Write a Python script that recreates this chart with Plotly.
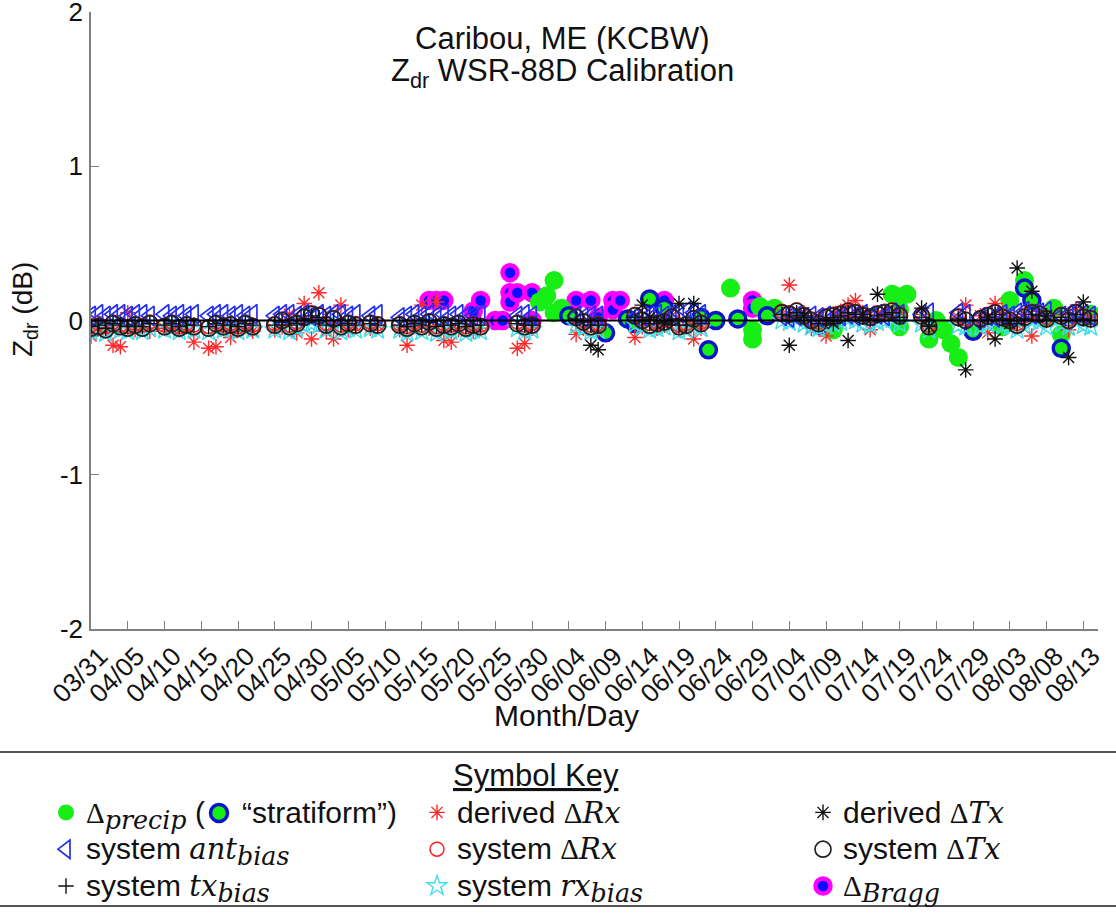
import plotly.graph_objects as go

YEAR = "2014"
SANS = "Liberation Sans, Arial, Helvetica, sans-serif"
SERIF = "DejaVu Serif"

# ---------------- data ----------------
TICK_LABELS = ["03/31", "04/05", "04/10", "04/15", "04/20", "04/25", "04/30", "05/05",
               "05/10", "05/15", "05/20", "05/25", "05/30", "06/04", "06/09", "06/14",
               "06/19", "06/24", "06/29", "07/04", "07/09", "07/14", "07/19", "07/24",
               "07/29", "08/03", "08/08", "08/13"]

# days with system calibration records
CAL_DATES = [
    "03/31", "04/01", "04/02", "04/03", "04/04", "04/05", "04/06", "04/07", "04/08",
    "04/10", "04/11", "04/12", "04/13", "04/14",
    "04/16", "04/17", "04/18", "04/19", "04/20", "04/21", "04/22",
    "04/25", "04/26", "04/27", "04/28", "04/29", "04/30", "05/01", "05/02", "05/03", "05/04", "05/05", "05/06",
    "05/08", "05/09",
    "05/12", "05/13", "05/14", "05/15", "05/16", "05/17", "05/18", "05/19", "05/20", "05/21", "05/22", "05/23",
    "05/28", "05/29", "05/30",
    "06/05", "06/06", "06/07", "06/08",
    "06/13", "06/14", "06/15", "06/16", "06/17", "06/18", "06/19", "06/20", "06/21", "06/22",
    "07/03", "07/04", "07/05", "07/06", "07/07", "07/08", "07/09", "07/10", "07/11", "07/12",
    "07/13", "07/14", "07/15", "07/16", "07/17", "07/18", "07/19",
    "07/22", "07/23",
    "07/27", "07/28",
    "07/30", "07/31", "08/01", "08/02", "08/03", "08/04", "08/05", "08/06", "08/07", "08/08",
    "08/10", "08/11", "08/12", "08/13", "08/14",
]

ANT_BIAS = [
    0.03, 0.04, 0.03, 0.04, 0.04, 0.03, 0.04, 0.04, 0.03,
    0.04, 0.03, 0.04, 0.03, 0.04,
    0.03, 0.04, 0.04, 0.03, 0.04, 0.03, 0.04,
    0.03, 0.04, 0.04, 0.03, 0.04, 0.03, 0.04, 0.03, 0.04, 0.04, 0.03, 0.04,
    0.03, 0.04,
    0.02, 0.03, 0.04, 0.03, 0.04, 0.03, 0.04, 0.03, 0.04, 0.03, 0.03, 0.04,
    0.03, 0.04, 0.03,
    0.03, 0.02, 0.03, 0.03,
    0.02, 0.03, 0.03, 0.04, 0.03, 0.04, 0.05, 0.06, 0.05, 0.04,
    0.03, 0.02, 0.03, 0.02, 0.03, 0.02, 0.03, 0.02, 0.03, 0.04,
    0.03, 0.04, 0.03, 0.04, 0.03, 0.05, 0.04,
    0.04, 0.05,
    0.05, 0.04,
    0.02, 0.03, 0.02, 0.04, 0.03, 0.05, 0.06, 0.04, 0.05, 0.06,
    0.03, 0.04, 0.05, 0.04, 0.03,
]

SYS_DTX = [
    -0.05, -0.04, -0.06, -0.02, -0.04, -0.05, -0.03, -0.05, -0.02,
    -0.04, -0.02, -0.05, -0.03, -0.04,
    -0.05, -0.02, -0.04, -0.03, -0.05, -0.02, -0.04,
    -0.03, 0.00, -0.04, -0.02, 0.02, 0.04, 0.03, -0.03, 0.01, -0.04, -0.02, -0.03,
    -0.02, -0.03,
    -0.03, -0.05, -0.02, -0.04, -0.01, -0.05, -0.03, -0.04, -0.02, -0.05, -0.03, -0.04,
    -0.02, -0.04, -0.03,
    0.02, -0.01, -0.04, -0.03,
    0.03, 0.00, -0.03, -0.02, -0.01, 0.02, -0.04, -0.03, 0.01, -0.02,
    0.05, 0.04, 0.06, 0.03, 0.00, -0.02, 0.02, 0.03, 0.04, 0.06,
    0.05, 0.03, 0.02, 0.04, 0.05, 0.06, 0.03,
    0.03, -0.04,
    0.02, 0.00,
    0.01, 0.03, 0.05, 0.02, 0.00, -0.03, 0.02, 0.05, 0.04, 0.01,
    0.03, 0.00, 0.05, 0.02, 0.01,
]

SYS_DRX = [
    -0.03, -0.02, -0.04, -0.01, -0.03, -0.04, -0.02, -0.03, -0.01,
    -0.03, -0.01, -0.04, -0.02, -0.03,
    -0.04, -0.01, -0.03, -0.02, -0.04, -0.01, -0.03,
    -0.02, 0.01, -0.03, -0.01, 0.03, 0.05, 0.04, -0.02, 0.02, -0.03, -0.01, -0.02,
    -0.01, -0.02,
    -0.02, -0.04, -0.01, -0.03, 0.00, -0.04, -0.02, -0.03, -0.01, -0.04, -0.02, -0.03,
    -0.01, -0.03, -0.02,
    0.03, 0.00, -0.03, -0.02,
    0.04, 0.01, -0.02, -0.01, 0.00, 0.03, -0.03, -0.02, 0.02, -0.01,
    0.06, 0.05, 0.07, 0.04, 0.01, -0.01, 0.03, 0.04, 0.05, 0.07,
    0.06, 0.04, 0.03, 0.05, 0.06, 0.07, 0.04,
    0.04, -0.03,
    0.03, 0.01,
    0.02, 0.04, 0.06, 0.03, 0.01, -0.02, 0.03, 0.06, 0.05, 0.02,
    0.04, 0.01, 0.06, 0.03, 0.02,
]

RX_BIAS = [
    -0.07, -0.06, -0.08, -0.05, -0.06, -0.07, -0.05, -0.07, -0.05,
    -0.06, -0.05, -0.07, -0.05, -0.06,
    -0.07, -0.05, -0.06, -0.05, -0.07, -0.05, -0.06,
    -0.06, -0.04, -0.07, -0.05, -0.03, -0.02, -0.03, -0.06, -0.04, -0.07, -0.05, -0.06,
    -0.05, -0.06,
    -0.06, -0.08, -0.05, -0.07, -0.04, -0.08, -0.06, -0.07, -0.05, -0.08, -0.06, -0.07,
    -0.05, -0.07, -0.06,
    -0.03, -0.05, -0.07, -0.06,
    -0.02, -0.04, -0.06, -0.05, -0.04, -0.02, -0.07, -0.06, -0.03, -0.05,
    0.00, -0.01, 0.01, -0.02, -0.04, -0.05, -0.03, -0.02, -0.01, 0.01,
    0.00, -0.02, -0.03, -0.01, 0.00, 0.01, -0.02,
    -0.02, -0.06,
    -0.03, -0.04,
    -0.04, -0.02, 0.00, -0.03, -0.04, -0.06, -0.03, 0.00, -0.01, -0.04,
    -0.02, -0.04, 0.00, -0.03, -0.04,
]

TX_BIAS = [
    -0.04, -0.03, -0.05, -0.02, -0.03, -0.04, -0.03, -0.04, -0.02,
    -0.03, -0.02, -0.04, -0.03, -0.03,
    -0.04, -0.02, -0.03, -0.03, -0.04, -0.02, -0.03,
    -0.03, -0.01, -0.03, -0.02, 0.01, 0.03, 0.02, -0.03, 0.00, -0.03, -0.02, -0.03,
    -0.02, -0.03,
    -0.03, -0.04, -0.02, -0.03, -0.01, -0.04, -0.03, -0.03, -0.02, -0.04, -0.03, -0.03,
    -0.02, -0.03, -0.03,
    0.01, -0.01, -0.03, -0.03,
    0.02, 0.00, -0.02, -0.02, -0.01, 0.01, -0.03, -0.03, 0.00, -0.02,
    0.04, 0.03, 0.05, 0.02, 0.00, -0.02, 0.01, 0.02, 0.03, 0.05,
    0.04, 0.02, 0.01, 0.03, 0.04, 0.05, 0.02,
    0.02, -0.03,
    0.01, 0.00,
    0.00, 0.02, 0.04, 0.01, 0.00, -0.02, 0.01, 0.04, 0.03, 0.00,
    0.02, 0.00, 0.04, 0.01, 0.00,
]

DERIVED_DRX = [
    -0.10, -0.05, -0.07, -0.16, -0.17, 0.05, -0.06, -0.04, -0.07,
    -0.05, -0.03, -0.06, -0.04, -0.14,
    -0.18, -0.17, -0.05, -0.11, -0.06, -0.04, -0.07,
    -0.06, -0.04, 0.04, -0.08, 0.11, -0.12, 0.18, -0.07, -0.12, 0.10, -0.06, -0.04,
    -0.05, -0.03,
    -0.06, -0.16, -0.04, 0.10, -0.05, 0.12, -0.13, -0.14, -0.06, -0.04, -0.07, -0.05,
    -0.18, -0.15, -0.05,
    -0.09, -0.05, -0.03, -0.06,
    -0.11, -0.04, 0.02, -0.05, -0.03, 0.03, -0.06, -0.04, -0.12, -0.05,
    0.04, 0.23, 0.03, 0.05, -0.05, 0.02, -0.10, 0.04, 0.06, 0.10,
    0.13, 0.05, -0.06, 0.04, 0.06, 0.03, 0.05,
    0.04, -0.03,
    0.02, 0.10,
    0.03, -0.08, 0.11, 0.05, 0.02, -0.03, 0.04, -0.10, 0.06, 0.03,
    0.04, -0.06, 0.07, 0.03, 0.02,
]

DTX_DATES = ["06/07", "06/08", "06/14", "06/15", "06/17", "06/19", "06/21", "07/04",
             "07/06", "07/10", "07/12", "07/14", "07/16", "07/22", "07/23", "07/28",
             "07/31", "08/01", "08/03", "08/04", "08/06", "08/08", "08/11", "08/13"]
DERIVED_DTX = [-0.16, -0.19, 0.10, 0.02, -0.02, 0.11, 0.11, -0.16,
               0.03, -0.02, -0.13, 0.04, 0.17, 0.08, -0.04, -0.32,
               0.02, -0.12, -0.02, 0.34, 0.19, 0.03, -0.24, 0.12]

PRECIP_DATES = ["05/31", "06/01", "06/02", "06/02", "06/03", "06/26", "06/29", "06/29",
                "06/30", "07/02", "07/10", "07/18", "07/19", "07/19", "07/20", "07/23",
                "07/24", "07/25", "07/26", "07/27", "08/02", "08/03", "08/05", "08/08",
                "08/09", "08/10", "08/14"]
PRECIP = [0.12, 0.16, 0.26, 0.05, 0.08, 0.21, -0.06, -0.12,
          0.09, 0.08, -0.06, 0.17, 0.07, -0.04, 0.17, -0.12,
          0.00, -0.06, -0.15, -0.24, -0.04, 0.13, 0.26, 0.02,
          0.08, -0.09, 0.04]

STRAT_DATES = ["06/04", "06/09", "06/12", "06/13", "06/15", "06/17", "06/22", "06/23",
               "06/24", "06/27", "07/01", "07/08", "07/29", "08/05", "08/06", "08/10"]
STRAT = [0.03, -0.08, 0.01, -0.02, 0.14, 0.08, 0.02, -0.19,
         0.00, 0.01, 0.03, -0.03, -0.07, 0.21, 0.13, -0.18]

BRAGG_DATES = ["05/16", "05/17", "05/18", "05/22", "05/23", "05/25", "05/26", "05/27",
               "05/27", "05/27", "05/28", "05/30", "05/30", "06/05", "06/07", "06/08",
               "06/10", "06/10", "06/11", "06/17", "06/29", "06/29"]
BRAGG = [0.13, 0.13, 0.13, 0.06, 0.13, 0.00, 0.00, 0.31,
         0.18, 0.12, 0.18, 0.18, 0.00, 0.13, 0.13, 0.02,
         0.13, 0.07, 0.13, 0.13, 0.13, 0.08]


def iso(md_list):
    return [f"{YEAR}-{s[:2]}-{s[3:]}" for s in md_list]


# ---------------- figure ----------------
W, H = 1116, 922
L, R, T, B = 91, 18, 12, 293
PW, PH = W - L - R, H - T - B


def px_to_paper_x(px):
    return (px - L) / PW


def py_to_paper_y(py):
    return (H - B - py) / PH


DELTA = '<span style="font-family:Liberation Serif">Δ</span>'


def math(s):
    return f'<span style="font-family:{SERIF};font-size:29px">{s}</span>'


def msub(s):
    return f'<sub><span style="font-size:125%"><i>{s}</i></span></sub>'


def key(s):
    return f'<span style="font-size:30px">{s}</span>'


NB = "\u00a0"
THIN = "\u2009"

fig = go.Figure()

# background series (drawn first)
fig.add_trace(go.Scatter(
    x=iso(BRAGG_DATES), y=BRAGG, mode="markers", name=key(math(DELTA + msub("Bragg"))),
    legend="legend3", legendrank=3,
    marker=dict(symbol="circle", size=15, color="#0a10ff", line=dict(color="#ff00ff", width=4.5))))
fig.add_trace(go.Scatter(
    x=iso(PRECIP_DATES), y=PRECIP, mode="markers",
    name=key(math(DELTA + msub("precip")) + " (" + NB * 3 + THIN * 2 + "“stratiform”)"),
    legend="legend", legendrank=1,
    marker=dict(symbol="circle", size=19, color="#16ee16", line=dict(width=0))))
fig.add_trace(go.Scatter(
    x=iso(STRAT_DATES), y=STRAT, mode="markers", name="stratiform", showlegend=False,
    marker=dict(symbol="circle", size=16, color="#16ee16", line=dict(color="#0a14c8", width=3.5))))

# calibration series
fig.add_trace(go.Scatter(
    x=iso(CAL_DATES), y=DERIVED_DRX, mode="markers", name=key("derived " + math(DELTA + "<i>Rx</i>")),
    legend="legend2", legendrank=1,
    marker=dict(symbol="asterisk-open", size=13, color="#ff2a2a", line=dict(width=1.4))))
fig.add_trace(go.Scatter(
    x=iso(CAL_DATES), y=RX_BIAS, mode="markers",
    name=key("system " + math("<i>rx</i>" + msub("bias"))),
    legend="legend2", legendrank=3,
    marker=dict(symbol="star-open", size=15, color="#40dcec", line=dict(width=1.4))))
fig.add_trace(go.Scatter(
    x=iso(CAL_DATES), y=SYS_DRX, mode="markers", name=key("system " + math(DELTA + "<i>Rx</i>")),
    legend="legend2", legendrank=2,
    marker=dict(symbol="circle-open", size=14, color="#ff2020", line=dict(width=1.5))))
fig.add_trace(go.Scatter(
    x=iso(CAL_DATES), y=ANT_BIAS, mode="markers",
    name=key("system " + math("<i>ant</i>" + msub("bias"))),
    legend="legend", legendrank=2,
    marker=dict(symbol="triangle-left-open", size=17, color="#2430f0", line=dict(width=1.7))))
fig.add_trace(go.Scatter(
    x=iso(CAL_DATES), y=SYS_DTX, mode="markers", name=key("system " + math(DELTA + "<i>Tx</i>")),
    legend="legend3", legendrank=2,
    marker=dict(symbol="circle-open", size=16, color="#222222", line=dict(width=1.7))))
fig.add_trace(go.Scatter(
    x=iso(CAL_DATES), y=TX_BIAS, mode="markers",
    name=key("system " + math("<i>tx</i>" + msub("bias"))),
    legend="legend", legendrank=3,
    marker=dict(symbol="cross-thin-open", size=11, color="#111111", line=dict(width=1.4))))
fig.add_trace(go.Scatter(
    x=iso(DTX_DATES), y=DERIVED_DTX, mode="markers", name=key("derived " + math(DELTA + "<i>Tx</i>")),
    legend="legend3", legendrank=1,
    marker=dict(symbol="asterisk-open", size=13, color="#111111", line=dict(width=1.4))))

axis_gray = "#808080"
fig.update_xaxes(
    type="date", range=[f"{YEAR}-03-31", f"{YEAR}-08-15"],
    tickmode="array", tickvals=iso(TICK_LABELS), ticktext=TICK_LABELS,
    tickangle=-45, ticks="inside", ticklen=8, tickwidth=1.2, tickcolor=axis_gray,
    showline=True, linecolor=axis_gray, linewidth=1.5, mirror=False,
    showgrid=False, zeroline=False, ticklabeloverflow="allow", ticklabelshift=9,
    tickfont=dict(family=SANS, size=26, color="#111"))
fig.update_yaxes(
    range=[-2, 2], tickmode="array", tickvals=[-2, -1, 0, 1, 2], ticktext=["-2", "-1", "0", "1", "2"],
    ticks="inside", ticklen=8, tickwidth=1.2, tickcolor=axis_gray,
    showline=True, linecolor=axis_gray, linewidth=1.5, mirror=False,
    showgrid=False, zeroline=False, ticklabelstandoff=1, ticklabeloverflow="allow",
    tickfont=dict(family=SANS, size=26, color="#111"))

# zero reference line
fig.add_shape(type="line", xref="paper", yref="y", x0=0, x1=1, y0=0, y1=0,
              line=dict(color="black", width=2), layer="above")

# separator lines around symbol key
for py in (752, 906):
    fig.add_shape(type="line", xref="paper", yref="paper",
                  x0=px_to_paper_x(0), x1=px_to_paper_x(W),
                  y0=py_to_paper_y(py), y1=py_to_paper_y(py),
                  line=dict(color="#555555", width=2))

# inline "stratiform" symbol inside first key entry
fig.add_shape(type="circle", xref="paper", yref="paper",
              xsizemode="pixel", ysizemode="pixel",
              xanchor=px_to_paper_x(219), yanchor=py_to_paper_y(813),
              x0=-8.5, x1=8.5, y0=-8.5, y1=8.5,
              fillcolor="#16ee16", line=dict(color="#0a14c8", width=3.5))

ann = [
    dict(text="Caribou, ME (KCBW)", x=px_to_paper_x(562), y=py_to_paper_y(38), size=31, h=32),
    dict(text="Z<sub>dr</sub> WSR-88D Calibration", x=px_to_paper_x(562), y=py_to_paper_y(73), size=31, h=34),
    dict(text="Month/Day", x=px_to_paper_x(566), y=py_to_paper_y(715), size=30, h=None),
    dict(text="<u>Symbol Key</u>", x=px_to_paper_x(536), y=py_to_paper_y(775), size=31, h=None),
]
for a in ann:
    fig.add_annotation(text=a["text"], xref="paper", yref="paper", x=a["x"], y=a["y"],
                       xanchor="center", yanchor="middle", showarrow=False, height=a["h"],
                       font=dict(family=SANS, size=a["size"], color="#111"))
fig.add_annotation(text="Z<sub>dr</sub> (dB)", xref="paper", yref="paper",
                   x=px_to_paper_x(24), y=py_to_paper_y(310), textangle=-90,
                   xanchor="center", yanchor="middle", showarrow=False,
                   font=dict(family=SANS, size=28, color="#111"))

leg_common = dict(orientation="v", xref="container", yref="container",
                  xanchor="left", yanchor="top", itemsizing="trace",
                  bgcolor="rgba(0,0,0,0)", borderwidth=0, tracegroupgap=0,
                  font=dict(family=SANS, size=26, color="#111"))
leg_top = 1 - 789 / H
fig.update_layout(
    width=W, height=H, autosize=False,
    margin=dict(l=L, r=R, t=T, b=B, autoexpand=False),
    paper_bgcolor="white", plot_bgcolor="white",
    showlegend=True,
    legend=dict(**leg_common, x=46 / W, y=leg_top),
    legend2=dict(**leg_common, x=417 / W, y=leg_top),
    legend3=dict(**leg_common, x=803 / W, y=leg_top),
)

fig.write_html("out.html")
